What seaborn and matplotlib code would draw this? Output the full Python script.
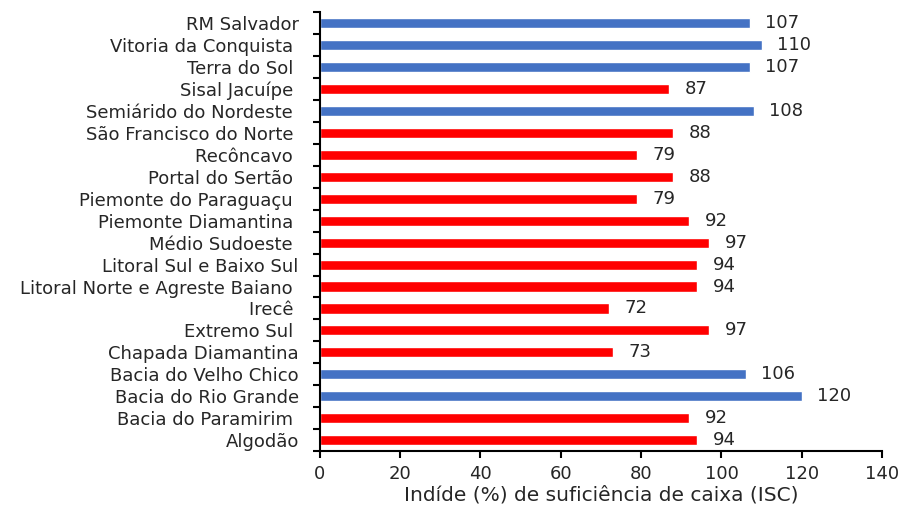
import matplotlib
matplotlib.use("Agg")
import matplotlib.pyplot as plt
import seaborn as sns
import pandas as pd
import numpy as np

regioes = ["RM Salvador", "Vitoria da Conquista ", "Terra do Sol ", "Sisal Jacuípe ",
           "Semiárido do Nordeste ", "São Francisco do Norte ", "Recôncavo ",
           "Portal do Sertão ", "Piemonte do Paraguaçu ", "Piemonte Diamantina ",
           "Médio Sudoeste ", "Litoral Sul e Baixo Sul", "Litoral Norte e Agreste Baiano ",
           "Irecê ", "Extremo Sul ", "Chapada Diamantina", "Bacia do Velho Chico",
           "Bacia do Rio Grande", "Bacia do Paramirim ", "Algodão"]
isc = [107, 110, 107, 87, 108, 88, 79, 88, 79, 92, 97, 94, 94, 72, 97, 73, 106, 120, 92, 94]
grupo = ["acima" if v >= 100 else "abaixo" for v in isc]
cores = {"acima": "#4472C4", "abaixo": "#FF0000"}

df = pd.DataFrame({"regiao": regioes, "isc": isc, "grupo": grupo})

sns.set_style("white")
plt.rcParams['font.family'] = ['DejaVu Sans']

fig = plt.figure(figsize=(9.03, 5.08), dpi=100)
ax = fig.add_axes([0.354, 0.112, 0.623, 0.864])
sns.barplot(data=df, y="regiao", x="isc", hue="grupo", palette=cores, dodge=False,
            orient="h", width=0.46, legend=False, ax=ax, saturation=1)

txt = "#262626"
for cont in ax.containers:
    ax.bar_label(cont, labels=[f"{int(v)}" if v == v else "" for v in cont.datavalues],
                 padding=11, fontsize=13, color=txt)

ax.set_xlim(0, 140)
ax.set_ylim(len(regioes) - 0.5, -0.5)
ax.set_xticks(np.arange(0, 141, 20))
ax.set_ylabel("")
ax.set_xlabel("Indíde (%) de suficiência de caixa (ISC)", fontsize=14.5, color=txt, labelpad=2)
for s in ["top", "right"]:
    ax.spines[s].set_visible(False)
for s in ["left", "bottom"]:
    ax.spines[s].set_color("black")
    ax.spines[s].set_linewidth(1.5)
ax.set_yticks(np.arange(-0.5, len(regioes), 1), minor=True)
ax.tick_params(axis="y", which="major", length=0, pad=15, labelsize=13, labelcolor=txt)
ax.tick_params(axis="y", which="minor", length=5, width=1.5, color="black", left=True)
ax.tick_params(axis="x", which="major", length=5, width=1.5, color="black", bottom=True,
               labelsize=13, labelcolor=txt, pad=5)

fig.savefig("out.png", dpi=100)
